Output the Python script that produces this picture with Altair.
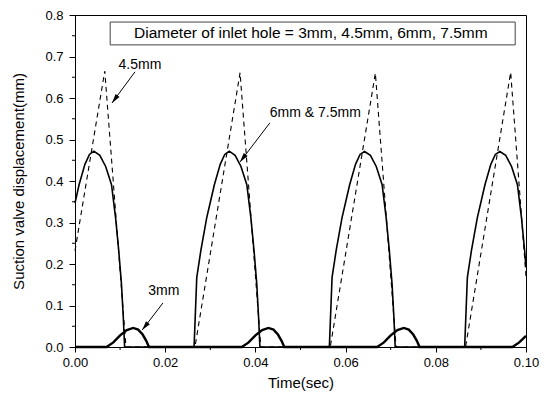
import altair as alt
import pandas as pd

# ---- data ----
# 6mm & 7.5mm (solid, the two curves coincide)
t_large = [0.0000, 0.0009, 0.0022, 0.0032, 0.0042, 0.0055, 0.0068, 0.0081, 0.0090, 0.0097, 0.0103, 0.0107, 0.0110,
           0.0264, 0.0270, 0.0279, 0.0292, 0.0309, 0.0322, 0.0332, 0.0342, 0.0355, 0.0368, 0.0381, 0.0390, 0.0397, 0.0403, 0.0407, 0.0410,
           0.0564, 0.0570, 0.0579, 0.0592, 0.0609, 0.0622, 0.0632, 0.0642, 0.0655, 0.0668, 0.0681, 0.0690, 0.0697, 0.0703, 0.0707, 0.0710,
           0.0864, 0.0870, 0.0879, 0.0892, 0.0909, 0.0922, 0.0932, 0.0942, 0.0955, 0.0968, 0.0981, 0.0990, 0.0997, 0.1000]
v_large = [0.347, 0.391, 0.440, 0.464, 0.472, 0.462, 0.435, 0.391, 0.311, 0.232, 0.152, 0.073, 0.000,
           0.000, 0.168, 0.232, 0.311, 0.391, 0.440, 0.464, 0.472, 0.462, 0.435, 0.391, 0.311, 0.232, 0.152, 0.073, 0.000,
           0.000, 0.168, 0.232, 0.311, 0.391, 0.440, 0.464, 0.471, 0.462, 0.435, 0.391, 0.311, 0.232, 0.152, 0.073, 0.000,
           0.000, 0.168, 0.232, 0.311, 0.391, 0.440, 0.464, 0.471, 0.462, 0.435, 0.391, 0.311, 0.232, 0.192]

# 4.5mm (dashed)
t_45 = [0.0000, 0.0066, 0.0113, 0.0266, 0.0366, 0.0412, 0.0566, 0.0666, 0.0712, 0.0866, 0.0966, 0.1000]
v_45 = [0.232, 0.665, 0.000, 0.000, 0.661, 0.000, 0.000, 0.660, 0.000, 0.000, 0.662, 0.170]

# 3mm (thick solid)
t_3 = [0.0000, 0.0070, 0.0085, 0.0100, 0.0115, 0.0129, 0.0140, 0.0150, 0.0158, 0.0164,
       0.0370, 0.0385, 0.0400, 0.0415, 0.0429, 0.0440, 0.0450, 0.0458, 0.0464,
       0.0670, 0.0685, 0.0700, 0.0715, 0.0729, 0.0740, 0.0750, 0.0758, 0.0764,
       0.0970, 0.0985, 0.1000]
v_3 = [0.000, 0.000, 0.011, 0.028, 0.041, 0.046, 0.042, 0.030, 0.015, 0.000,
       0.000, 0.011, 0.028, 0.041, 0.046, 0.042, 0.030, 0.015, 0.000,
       0.000, 0.011, 0.028, 0.041, 0.046, 0.042, 0.030, 0.015, 0.000,
       0.000, 0.011, 0.027]

x_ticks = [0.0, 0.02, 0.04, 0.06, 0.08, 0.10]
y_ticks = [0.0, 0.1, 0.2, 0.3, 0.4, 0.5, 0.6, 0.7, 0.8]
x_minor = [0.01, 0.03, 0.05, 0.07, 0.09]
y_minor = [0.05, 0.15, 0.25, 0.35, 0.45, 0.55, 0.65, 0.75]

box_text = ["Diameter of inlet hole = 3mm, 4.5mm, 6mm, 7.5mm"]
box_t = [0.0078]
box_t2 = [0.0976]
box_v = [0.783]
box_v2 = [0.728]
box_text_t = [0.0523]
box_text_v = [0.7555]

ann_labels = ["4.5mm", "6mm & 7.5mm", "3mm"]
ann_t = [0.0144, 0.0432, 0.0197]
ann_v = [0.680, 0.564, 0.135]
ann_align = ["center", "left", "center"]

arrow_tail_t = [0.0133, 0.0432, 0.0195]
arrow_tail_v = [0.663, 0.540, 0.106]
arrow_tip_t = [0.0082, 0.0366, 0.0149]
arrow_tip_v = [0.588, 0.446, 0.041]
arrow_angle = [217, 217, 218]

FONT = "Liberation Sans"

xscale = alt.Scale(domain=[0, 0.1], nice=False, zero=False)
yscale = alt.Scale(domain=[0, 0.8], nice=False, zero=False)
xaxis = alt.Axis(title="Time(sec)", values=x_ticks, format=".2f", tickSize=5,
                 labelPadding=4, titlePadding=6, labelFlush=False, labelOverlap=False)
yaxis = alt.Axis(title="Suction valve displacement(mm)", values=y_ticks, format=".1f", tickSize=6,
                 labelPadding=6, titlePadding=18, labelFlush=False, labelOverlap=False)

X = alt.X("t:Q", scale=xscale, axis=xaxis)
Y = alt.Y("v:Q", scale=yscale, axis=yaxis)

df_large = pd.DataFrame({"t": t_large, "v": v_large})
df_45 = pd.DataFrame({"t": t_45, "v": v_45})
df_3 = pd.DataFrame({"t": t_3, "v": v_3})

dashed = alt.Chart(df_45).mark_line(color="black", strokeWidth=1.1, strokeDash=[5, 4]).encode(x=X, y=Y, order="t:Q")
solid = alt.Chart(df_large).mark_line(color="black", strokeWidth=1.6).encode(x=X, y=Y, order="t:Q")
thick = alt.Chart(df_3).mark_line(color="black", strokeWidth=2.4).encode(x=X, y=Y, order="t:Q")

PLOT_H = 332
xminor = alt.Chart(pd.DataFrame({"t": x_minor})).mark_rule(color="black", strokeWidth=1).encode(
    x=X, y=alt.value(PLOT_H), y2=alt.value(PLOT_H + 3))
yminor = alt.Chart(pd.DataFrame({"v": y_minor})).mark_rule(color="black", strokeWidth=1).encode(
    y=Y, x=alt.value(-3), x2=alt.value(0))

box = alt.Chart(pd.DataFrame({"t": box_t, "t2": box_t2, "v": box_v, "v2": box_v2})).mark_rect(
    fill="white", stroke="#444444", strokeWidth=1).encode(x=X, x2="t2:Q", y=Y, y2="v2:Q")
box_label = alt.Chart(pd.DataFrame({"t": box_text_t, "v": box_text_v, "label": box_text})).mark_text(
    font=FONT, fontSize=15.5, color="black", align="center", baseline="middle").encode(x=X, y=Y, text="label:N")

ann_df = pd.DataFrame({"t": ann_t, "v": ann_v, "label": ann_labels, "align": ann_align})
ann_center = alt.Chart(ann_df[ann_df["align"] == "center"]).mark_text(
    font=FONT, fontSize=14, color="black", align="center", baseline="middle").encode(x=X, y=Y, text="label:N")
ann_left = alt.Chart(ann_df[ann_df["align"] == "left"]).mark_text(
    font=FONT, fontSize=14, color="black", align="left", baseline="middle").encode(x=X, y=Y, text="label:N")

arrow_df = pd.DataFrame({"t": arrow_tail_t, "v": arrow_tail_v, "t2": arrow_tip_t, "v2": arrow_tip_v})
shafts = alt.Chart(arrow_df).mark_rule(color="black", strokeWidth=1).encode(x=X, y=Y, x2="t2:Q", y2="v2:Q")
head_df = pd.DataFrame({"t": arrow_tip_t, "v": arrow_tip_v, "angle": arrow_angle})
heads = alt.Chart(head_df).mark_point(
    shape="M0,0L-0.45,1.7L0.45,1.7Z", filled=True, color="black", opacity=1, size=120, strokeWidth=0
).encode(x=X, y=Y, angle=alt.Angle("angle:Q", scale=None))

chart = alt.layer(
    box, box_label, dashed, solid, thick, xminor, yminor, shafts, heads, ann_center, ann_left
).properties(
    width=451, height=PLOT_H,
    autosize=alt.AutoSizeParams(type="none"),
    padding={"left": 67, "top": 7, "right": 14, "bottom": 44},
    background="white",
).configure_view(
    stroke="black", strokeWidth=1
).configure_axis(
    grid=False, domainColor="black", tickColor="black", labelColor="black", titleColor="black",
    labelFont=FONT, titleFont=FONT, labelFontSize=13, titleFontSize=15, titleFontWeight="normal",
    domainWidth=1, tickWidth=1
)

chart.save("out.html", embed_options={"renderer": "svg", "actions": False})
